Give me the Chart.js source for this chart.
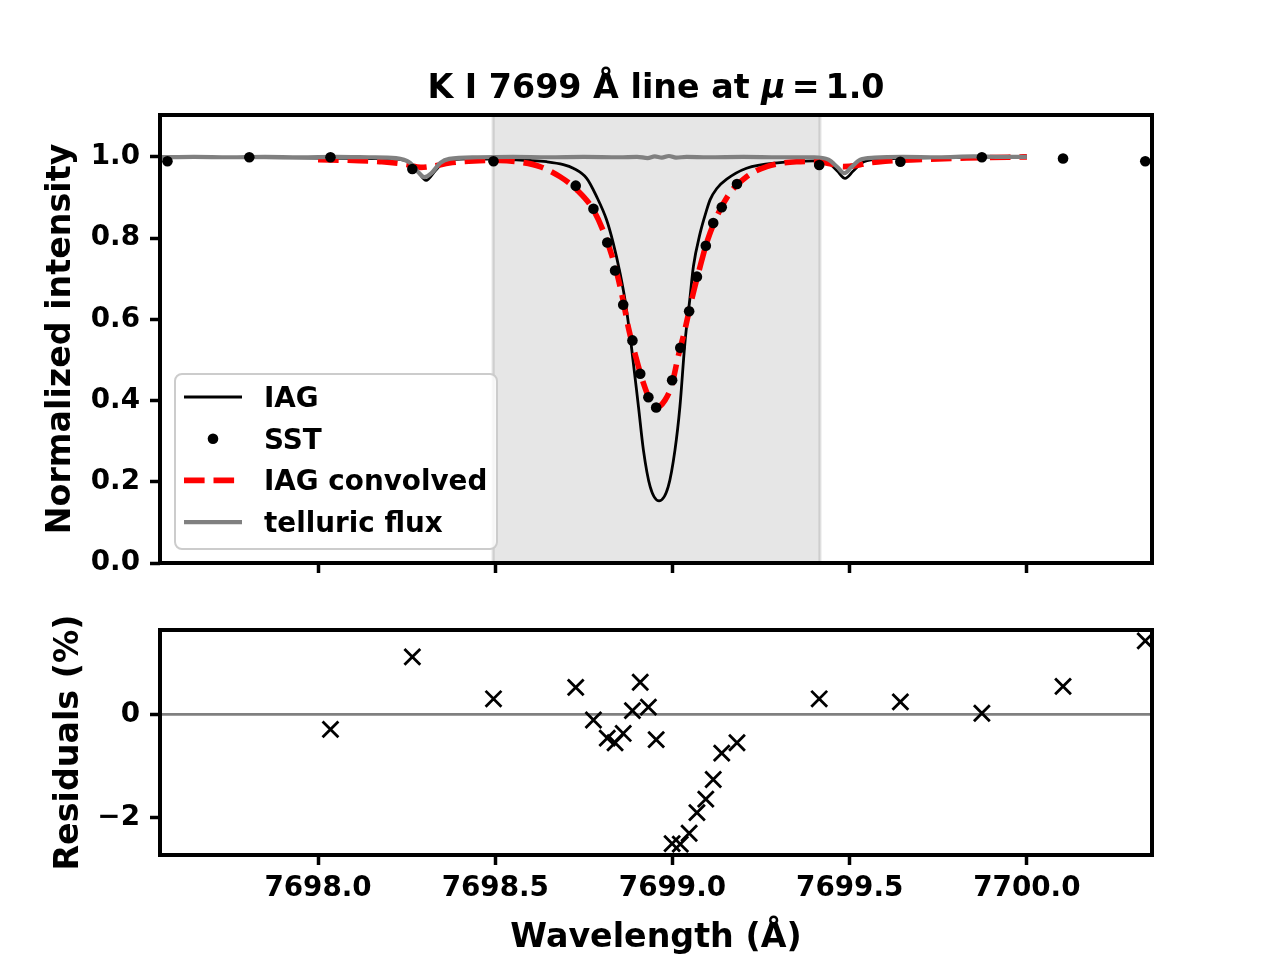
<!DOCTYPE html>
<html>
<head>
<meta charset="utf-8">
<script src="https://cdn.jsdelivr.net/npm/chart.js@4.4.0/dist/chart.umd.min.js"></script>
<style>
  body { margin: 0; background: #fff; }
  canvas { display: block; }
</style>
</head>
<body>
<canvas id="topChart" width="1280" height="600"></canvas>
<canvas id="resChart" width="1280" height="360"></canvas>
<script>
// IAG atlas spectrum
const iagWave = [7697.55, 7697.80, 7698.00, 7698.20, 7698.25, 7698.28, 7698.305, 7698.33, 7698.36, 7698.42,
  7698.50, 7698.60, 7698.645, 7698.692, 7698.720, 7698.758, 7698.786, 7698.814, 7698.833, 7698.852,
  7698.866, 7698.883, 7698.904, 7698.918, 7698.937, 7698.962, 7698.988, 7699.007, 7699.021, 7699.035,
  7699.049, 7699.059, 7699.078, 7699.095, 7699.106, 7699.125, 7699.153, 7699.209, 7699.303, 7699.40,
  7699.44, 7699.465, 7699.487, 7699.51, 7699.54, 7699.60, 7699.75, 7700.00];
const iagFlux = [0.998, 0.998, 0.997, 0.995, 0.990, 0.965, 0.942, 0.965, 0.990, 0.995,
  0.994, 0.991, 0.988, 0.981, 0.972, 0.947, 0.902, 0.845, 0.787, 0.714,
  0.648, 0.541, 0.385, 0.278, 0.188, 0.153, 0.188, 0.278, 0.385, 0.541,
  0.650, 0.730, 0.812, 0.865, 0.894, 0.922, 0.945, 0.972, 0.986, 0.990,
  0.985, 0.965, 0.947, 0.965, 0.988, 0.995, 0.998, 1.000];

// SST observation
const sstWave = [7697.575, 7697.806, 7698.035, 7698.266, 7698.495, 7698.727, 7698.777, 7698.816, 7698.838,
  7698.861, 7698.887, 7698.909, 7698.932, 7698.954, 7698.999, 7699.022, 7699.047, 7699.069, 7699.094,
  7699.115, 7699.139, 7699.182, 7699.414, 7699.643, 7699.873, 7700.102, 7700.334];
const sstFlux = [0.989, 0.999, 0.999, 0.970, 0.989, 0.929, 0.872, 0.789, 0.720,
  0.636, 0.548, 0.466, 0.408, 0.383, 0.450, 0.530, 0.620, 0.705, 0.781,
  0.837, 0.876, 0.933, 0.980, 0.988, 0.999, 0.996, 0.989];

// IAG convolved to SST resolution
const convWave = [7698.00, 7698.10, 7698.18, 7698.25, 7698.29, 7698.33, 7698.37, 7698.44, 7698.51, 7698.57,
  7698.626, 7698.683, 7698.730, 7698.777, 7698.814, 7698.843, 7698.861, 7698.875, 7698.894, 7698.918,
  7698.937, 7698.955, 7698.979, 7698.998, 7699.016, 7699.035, 7699.054, 7699.078, 7699.096, 7699.125,
  7699.162, 7699.209, 7699.266, 7699.350, 7699.40, 7699.45, 7699.482, 7699.52, 7699.548, 7699.60,
  7699.689, 7699.830, 7700.00];
const convFlux = [0.993, 0.991, 0.988, 0.981, 0.974, 0.978, 0.985, 0.990, 0.991, 0.987,
  0.976, 0.951, 0.919, 0.869, 0.796, 0.714, 0.645, 0.582, 0.516, 0.443,
  0.401, 0.383, 0.401, 0.438, 0.508, 0.574, 0.648, 0.730, 0.787, 0.853,
  0.911, 0.951, 0.976, 0.988, 0.989, 0.982, 0.976, 0.979, 0.984, 0.989,
  0.993, 0.997, 1.000];

// telluric transmission
const tellWave = [7697.55, 7697.65, 7697.75, 7697.85, 7697.95, 7698.05, 7698.15, 7698.22, 7698.26, 7698.285,
  7698.30, 7698.32, 7698.345, 7698.37, 7698.45, 7698.55, 7698.65, 7698.75, 7698.85, 7698.90,
  7698.93, 7698.95, 7698.97, 7698.99, 7699.01, 7699.04, 7699.10, 7699.20, 7699.30, 7699.40,
  7699.44, 7699.465, 7699.485, 7699.505, 7699.53, 7699.57, 7699.65, 7699.75, 7699.85, 7699.93, 7700.00];
const tellFlux = [0.999, 1.000, 0.999, 1.000, 0.999, 1.000, 0.999, 0.997, 0.985, 0.960,
  0.950, 0.960, 0.985, 0.995, 0.999, 1.000, 0.999, 1.000, 0.999, 1.000,
  0.997, 1.001, 0.998, 1.002, 0.998, 1.000, 0.999, 1.000, 0.999, 0.999,
  0.993, 0.975, 0.960, 0.975, 0.993, 0.998, 1.000, 0.999, 1.001, 1.000, 1.000];

// residuals (%) at SST wavelengths
const resWave = [7698.035, 7698.266, 7698.495, 7698.727, 7698.777, 7698.816, 7698.838, 7698.861, 7698.887,
  7698.909, 7698.932, 7698.954, 7698.999, 7699.022, 7699.047, 7699.069, 7699.094, 7699.115, 7699.139,
  7699.182, 7699.414, 7699.643, 7699.873, 7700.102, 7700.334];
const resValue = [-0.29, 1.11, 0.30, 0.52, -0.11, -0.46, -0.55, -0.37, 0.07,
  0.62, 0.14, -0.49, -2.50, -2.51, -2.30, -1.90, -1.64, -1.26, -0.75,
  -0.55, 0.30, 0.24, 0.02, 0.54, 1.42];

const spanRange = [7698.494, 7699.416];
const xRange = [7697.554, 7700.353];
const xTickStep = 0.5;
const fluxRange = [0, 1.103];
const resRange = [-2.72, 1.63];

const FONT = "'DejaVu Sans', sans-serif";
Chart.defaults.font.family = FONT;
Chart.defaults.font.weight = 'bold';
Chart.defaults.font.size = 27.8;
Chart.defaults.color = '#000';

const pts = (xs, ys) => xs.map((x, i) => ({x: x, y: ys[i]}));

const framePlugin = {
  id: 'frame',
  afterDraw(chart) {
    const a = chart.chartArea, ctx = chart.ctx;
    ctx.save();
    ctx.strokeStyle = '#000';
    ctx.lineWidth = 4;
    ctx.strokeRect(a.left, a.top, a.right - a.left, a.bottom - a.top);
    ctx.restore();
  }
};

const spanPlugin = {
  id: 'span',
  beforeDatasetsDraw(chart) {
    const x = chart.scales.x, a = chart.chartArea, ctx = chart.ctx;
    const x0 = x.getPixelForValue(spanRange[0]), x1 = x.getPixelForValue(spanRange[1]);
    ctx.save();
    ctx.fillStyle = 'rgba(128,128,128,0.2)';
    ctx.fillRect(x0, a.top, x1 - x0, a.bottom - a.top);
    ctx.strokeStyle = 'rgba(128,128,128,0.25)';
    ctx.lineWidth = 3;
    ctx.strokeRect(x0, a.top, x1 - x0, a.bottom - a.top);
    ctx.restore();
  }
};

// title with mathtext-like spacing around "="
const titlePlugin = {
  id: 'panelTitle',
  afterDraw(chart) {
    const ctx = chart.ctx, a = chart.chartArea;
    const parts = [['K I 7699 Å line at ', 'bold', 0], ['μ', 'italic bold', 6], ['=', 'bold', 6], ['1.0', 'bold', 0]];
    ctx.save();
    ctx.fillStyle = '#000';
    ctx.textBaseline = 'alphabetic';
    const widths = parts.map(p => {
      ctx.font = p[1] + ' 33.3px ' + FONT;
      return ctx.measureText(p[0]).width + p[2];
    });
    let x = (a.left + a.right) / 2 - widths.reduce((s, w) => s + w, 0) / 2;
    parts.forEach((p, i) => {
      ctx.font = p[1] + ' 33.3px ' + FONT;
      ctx.fillText(p[0], x, a.top - 17);
      x += widths[i];
    });
    ctx.restore();
  }
};

const legendPlugin = {
  id: 'boxLegend',
  afterDatasetsDraw(chart) {
    const ctx = chart.ctx, a = chart.chartArea;
    const left = a.left + 15, top = a.bottom - 189, w = 322, h = 175;
    ctx.save();
    ctx.beginPath();
    ctx.roundRect(left, top, w, h, 7);
    ctx.fillStyle = 'rgba(255,255,255,0.8)';
    ctx.fill();
    ctx.strokeStyle = '#cccccc';
    ctx.lineWidth = 2;
    ctx.stroke();
    const items = chart.data.datasets;
    const hx0 = left + 9, hx1 = left + 67, tx = left + 89;
    ctx.font = 'bold 27.8px ' + FONT;
    ctx.textBaseline = 'alphabetic';
    items.forEach((ds, i) => {
      const y = top + 23 + i * 41.7;
      ctx.save();
      if (ds.showLine) {
        ctx.strokeStyle = ds.borderColor;
        ctx.lineWidth = ds.borderWidth;
        ctx.setLineDash(ds.borderDash || []);
        ctx.beginPath();
        ctx.moveTo(hx0, y);
        ctx.lineTo(hx1, y);
        ctx.stroke();
      } else {
        ctx.fillStyle = ds.backgroundColor;
        ctx.beginPath();
        ctx.arc((hx0 + hx1) / 2, y, ds.pointRadius, 0, Math.PI * 2);
        ctx.fill();
      }
      ctx.restore();
      ctx.fillStyle = '#000';
      ctx.fillText(ds.label, tx, y + 10);
    });
    ctx.restore();
  }
};

const zeroLinePlugin = {
  id: 'zeroLine',
  beforeDatasetsDraw(chart) {
    const y = chart.scales.y.getPixelForValue(0), a = chart.chartArea, ctx = chart.ctx;
    ctx.save();
    ctx.strokeStyle = '#808080';
    ctx.lineWidth = 2.8;
    ctx.beginPath();
    ctx.moveTo(a.left, y);
    ctx.lineTo(a.right, y);
    ctx.stroke();
    ctx.restore();
  }
};

const tickGrid = {
  drawOnChartArea: false, drawTicks: true, tickLength: 10, tickWidth: 3.5, tickColor: '#000'
};

new Chart(document.getElementById('topChart'), {
  type: 'scatter',
  data: {
    datasets: [
      {label: 'IAG', data: pts(iagWave, iagFlux), showLine: true, borderColor: '#000', borderWidth: 2.8,
       pointRadius: 0, cubicInterpolationMode: 'monotone', order: 4},
      {label: 'SST', data: pts(sstWave, sstFlux), showLine: false, backgroundColor: '#000', borderColor: '#000',
       pointRadius: 5.3, borderWidth: 0, order: 1},
      {label: 'IAG convolved', data: pts(convWave, convFlux), showLine: true, borderColor: '#ff0000',
       borderWidth: 5.6, borderDash: [20.6, 8.9], pointRadius: 0, cubicInterpolationMode: 'monotone', order: 3},
      {label: 'telluric flux', data: pts(tellWave, tellFlux), showLine: true, borderColor: '#808080',
       borderWidth: 4.2, pointRadius: 0, cubicInterpolationMode: 'monotone', order: 2}
    ]
  },
  options: {
    responsive: false,
    animation: false,
    events: [],
    layout: {padding: {top: 115, right: 128, left: 0, bottom: 0}},
    plugins: {legend: {display: false}, tooltip: {enabled: false}},
    scales: {
      x: {
        type: 'linear', min: xRange[0], max: xRange[1],
        ticks: {display: false, stepSize: xTickStep, includeBounds: false, autoSkip: false},
        grid: tickGrid, border: {display: false},
        afterFit: s => { s.height = 37; }
      },
      y: {
        min: fluxRange[0], max: fluxRange[1],
        ticks: {stepSize: 0.2, includeBounds: false, autoSkip: false, padding: 10,
                callback: v => v.toFixed(1)},
        grid: tickGrid, border: {display: false},
        title: {display: true, text: 'Normalized intensity', font: {size: 33.3, weight: 'bold'},
                padding: {top: 41, bottom: 0}},
        afterFit: s => { s.width = 160; }
      }
    }
  },
  plugins: [spanPlugin, legendPlugin, titlePlugin, framePlugin]
});

new Chart(document.getElementById('resChart'), {
  type: 'scatter',
  data: {
    datasets: [
      {label: 'residuals', data: pts(resWave, resValue), pointStyle: 'crossRot', pointRadius: 11.2,
       borderColor: '#000', borderWidth: 2.8, backgroundColor: '#000'}
    ]
  },
  options: {
    responsive: false,
    animation: false,
    events: [],
    layout: {padding: {top: 30, right: 128, left: 0, bottom: 0}},
    plugins: {legend: {display: false}, tooltip: {enabled: false}},
    scales: {
      x: {
        type: 'linear', min: xRange[0], max: xRange[1],
        ticks: {stepSize: xTickStep, includeBounds: false, autoSkip: false, maxRotation: 0, padding: 7,
                callback: v => v.toFixed(1)},
        grid: tickGrid, border: {display: false},
        title: {display: true, text: 'Wavelength (Å)', font: {size: 33.3, weight: 'bold'},
                padding: {top: 0, bottom: 2}},
        afterFit: s => { s.height = 105; }
      },
      y: {
        min: resRange[0], max: resRange[1],
        ticks: {stepSize: 2, includeBounds: false, autoSkip: false, padding: 10,
                callback: v => (v < 0 ? '\u2212' + Math.abs(v) : String(v))},
        grid: tickGrid, border: {display: false},
        title: {display: true, text: 'Residuals (%)', font: {size: 33.3, weight: 'bold'},
                padding: {top: 49, bottom: 0}},
        afterFit: s => { s.width = 160; }
      }
    }
  },
  plugins: [zeroLinePlugin, framePlugin]
});
</script>
</body>
</html>
